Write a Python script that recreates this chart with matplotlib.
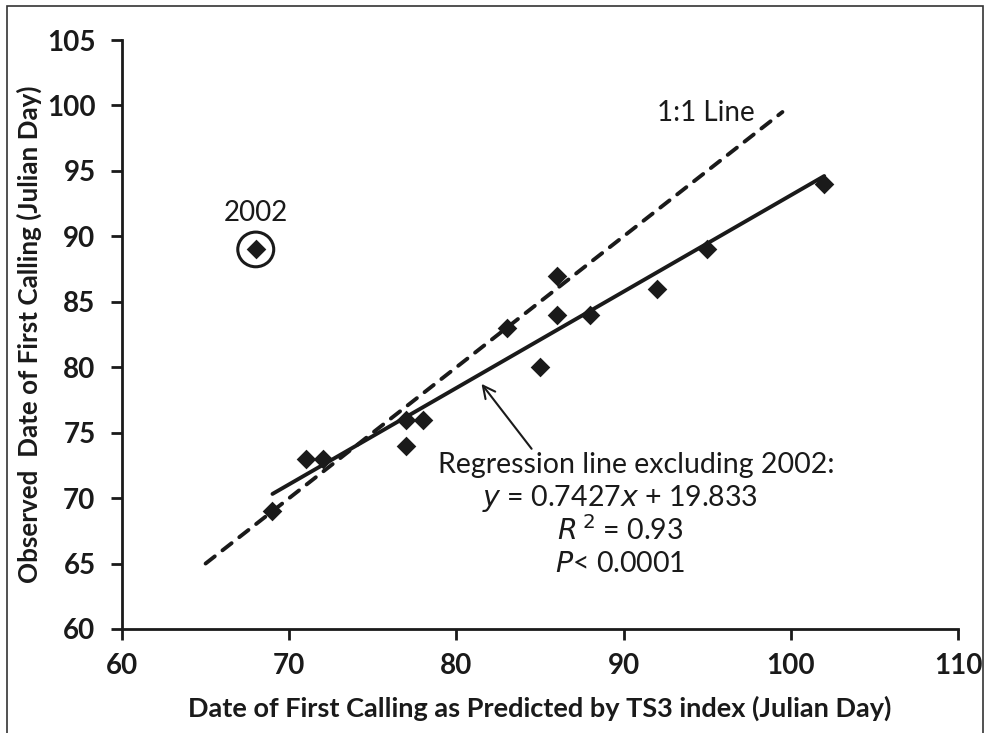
import numpy as np
import matplotlib
matplotlib.use("Agg")
import matplotlib.pyplot as plt
from matplotlib.patches import Ellipse, Rectangle

plt.rcParams['font.family'] = ['Lato', 'DejaVu Sans']

# Data (predicted, observed) - Julian day
pred = [68, 69, 71, 72, 77, 77, 78, 83, 85, 86, 86, 88, 92, 95, 102]
obs = [89, 69, 73, 73, 76, 74, 76, 83, 80, 87, 84, 84, 86, 89, 94]
outlier_year = "2002"
outlier_idx = 0

xt = [60, 70, 80, 90, 100, 110]
yt = [60, 65, 70, 75, 80, 85, 90, 95, 100, 105]

one_to_one = [65, 99.5]

fig = plt.figure(figsize=(9.87, 7.33), dpi=100)
ax = fig.add_axes([0.1236, 0.1419, 0.847, 0.8035])

# frame around figure
fig.patches.append(Rectangle((0.007, -0.05), 0.989, 1.042, transform=fig.transFigure,
                             fill=False, edgecolor='#333333', linewidth=1.2))

px = np.array(pred, float)
py = np.array(obs, float)
mask = np.ones(len(px), bool)
mask[outlier_idx] = False
slope, intercept = np.polyfit(px[mask], py[mask], 1)
xr = np.array([px[mask].min(), px[mask].max()])
ax.plot(xr, slope * xr + intercept, color='#1a1a1a', lw=2.8, solid_capstyle='round', zorder=2)

ax.plot(one_to_one, one_to_one, color='#1a1a1a', lw=2.8, ls=(0, (3.0, 2.5)),
        dash_capstyle='round', zorder=2)

ax.scatter(px, py, marker='D', s=100, color='#1a1a1a', zorder=3, linewidths=0)

ax.add_patch(Ellipse((px[outlier_idx], py[outlier_idx]), 2.15, 2.65, fill=False,
                     edgecolor='#1a1a1a', lw=2.2, zorder=3))
ax.text(px[outlier_idx], 91.8, outlier_year, ha='center', va='center',
        fontsize=20, color='#1a1a1a')

ax.text(94.9, 99.4, "1:1 Line", ha='center', va='center', fontsize=20, color='#1a1a1a')

ax.annotate("", xy=(81.4, 78.9), xytext=(84.6, 73.6),
            arrowprops=dict(arrowstyle='->', color='#1a1a1a', lw=1.5,
                            mutation_scale=22))
fs = 20.5
ax.text(90.77, 72.53, "Regression line excluding 2002:", ha='center', va='center', fontsize=fs, color='#1a1a1a')
ax.text(89.8, 70.0, r"$\mathit{y}$ = 0.7427$\mathit{x}$ + 19.833", ha='center', va='center', fontsize=fs, color='#1a1a1a')
ax.text(89.8, 67.56, r"$\mathit{R}^{\,2}$ = 0.93", ha='center', va='center', fontsize=fs, color='#1a1a1a')
ax.text(89.8, 65.0, r"$\mathit{P}$< 0.0001", ha='center', va='center', fontsize=fs, color='#1a1a1a')

ax.set_xlim(60, 110)
ax.set_ylim(60, 105)
ax.set_xticks(xt)
ax.set_yticks(yt)
for s in ['top', 'right']:
    ax.spines[s].set_visible(False)
for s in ['left', 'bottom']:
    ax.spines[s].set_linewidth(2)
    ax.spines[s].set_color('#1a1a1a')
ax.tick_params(direction='out', length=8, width=2, color='#1a1a1a', labelsize=20)
ax.tick_params(axis='x', pad=9)
ax.tick_params(axis='y', pad=11)
for lab in ax.get_xticklabels() + ax.get_yticklabels():
    lab.set_fontweight('bold')
    lab.set_color('#1a1a1a')

ax.set_xlabel("Date of First Calling as Predicted by TS3 index (Julian Day)", fontsize=19.5,
              fontweight='bold', color='#1a1a1a')
ax.set_ylabel("Observed  Date of First Calling (Julian Day)", fontsize=18.7,
              fontweight='bold', color='#1a1a1a')
ax.xaxis.set_label_coords(0.5, -0.113)
ax.yaxis.set_label_coords(-0.096, 0.5)

fig.savefig("out.png", dpi=100)
